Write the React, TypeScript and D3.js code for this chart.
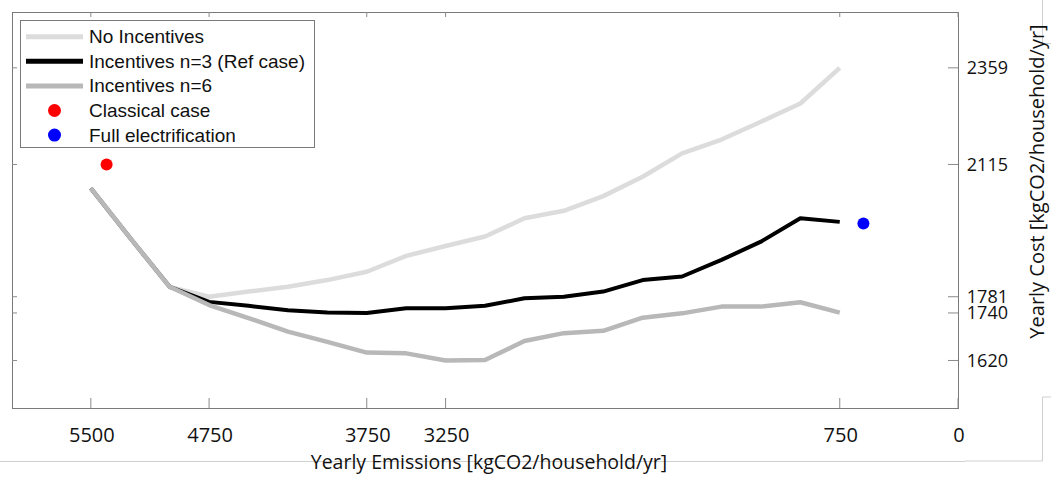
import React from "react";
import * as d3 from "d3";

const emissions = [5500, 5250, 5000, 4750, 4500, 4250, 4000, 3750, 3500, 3250, 3000, 2750, 2500, 2250, 2000, 1750, 1500, 1250, 1000, 750];
const noIncentives = [2055, 1929, 1806, 1781, 1794, 1806, 1823, 1844, 1884, 1909, 1933, 1979, 1998, 2035, 2084, 2143, 2178, 2223, 2269, 2359];
const incentivesN3 = [2055, 1929, 1806, 1768, 1758, 1747, 1741, 1740, 1752, 1752, 1758, 1777, 1781, 1794, 1823, 1832, 1874, 1920, 1979, 1970];
const incentivesN6 = [2055, 1929, 1806, 1760, 1727, 1693, 1667, 1640, 1638, 1620, 1621, 1669, 1689, 1695, 1728, 1739, 1756, 1756, 1767, 1741];
const classicalCase = { x: 5400, y: 2115 };
const fullElectrification = { x: 600, y: 1966 };
const xTicks = [5500, 4750, 3750, 3250, 750, 0];
const yTicks = [2359, 2115, 1781, 1740, 1620];

const seriesNames = ["No Incentives", "Incentives n=3 (Ref case)", "Incentives n=6", "Classical case", "Full electrification"];

const W = 1051, H = 483;
const L = 12, R = 958, T = 12, B = 408;

export default function App() {
  const x = d3.scaleLinear().domain([6000, 0]).range([L, R]);
  const y = d3.scaleLinear().domain([1500, 2500]).range([B, T]);
  const line = d3.line<number>().x((_, i) => x(emissions[i])).y((d) => y(d));

  const series = [
    { name: seriesNames[0], values: noIncentives, color: "#dcdcdc", w: 4.5 },
    { name: seriesNames[1], values: incentivesN3, color: "#000000", w: 4 },
    { name: seriesNames[2], values: incentivesN6, color: "#b8b8b8", w: 4.5 },
  ];

  const legendY = (i: number) => 36.7 + i * 24.6;
  const artifact = "#cfcfcf";
  const legendFont = "'Liberation Sans', Arial, sans-serif";

  return (
    <svg width={W} height={H} style={{ position: "absolute", left: 0, top: 0, background: "#fff" }}>
      {/* framing lines of the screenshot */}
      <line x1={0} x2={965} y1={461.5} y2={461.5} stroke={artifact} strokeWidth={1} />
      <line x1={965} x2={1042.5} y1={461} y2={461} stroke={artifact} strokeWidth={1} />
      <line x1={1042.5} x2={1042.5} y1={397} y2={461} stroke={artifact} strokeWidth={1} />
      <line x1={1042.5} x2={W} y1={397} y2={397} stroke={artifact} strokeWidth={1} />
      <line x1={1042.5} x2={1042.5} y1={0} y2={43.5} stroke={artifact} strokeWidth={1} />
      <line x1={1042.5} x2={W} y1={43.5} y2={43.5} stroke={artifact} strokeWidth={1} />

      {/* plot box */}
      <rect x={L + 0.5} y={T + 0.5} width={R - L} height={B - T} fill="none" stroke="#7a7a7a" strokeWidth={1} />

      {/* x ticks */}
      {xTicks.map((t) => (
        <g key={"xt" + t}>
          <line x1={x(t)} x2={x(t)} y1={B} y2={B - 10} stroke="#8a8a8a" />
          <line x1={x(t)} x2={x(t)} y1={T} y2={T + 5} stroke="#8a8a8a" />
          <text x={x(t) + 1} y={442} textAnchor="middle" fontFamily="'Open Sans', sans-serif" fontSize={20} fill="#111">
            {t}
          </text>
        </g>
      ))}

      {/* y ticks (right axis) */}
      {yTicks.map((t) => (
        <g key={"yt" + t}>
          <line x1={R} x2={R - 10} y1={y(t)} y2={y(t)} stroke="#8a8a8a" />
          <line x1={L} x2={L + 5} y1={y(t)} y2={y(t)} stroke="#8a8a8a" />
          <text x={1008} y={y(t) + 6.5} textAnchor="end" fontFamily="'Open Sans', sans-serif" fontSize={18} fill="#111">
            {t}
          </text>
        </g>
      ))}

      {/* series */}
      {series.map((s) => (
        <path key={s.name} d={line(s.values) || ""} fill="none" stroke={s.color} strokeWidth={s.w} strokeLinejoin="round" />
      ))}
      <circle cx={x(classicalCase.x)} cy={y(classicalCase.y)} r={6} fill="#ff0000" />
      <circle cx={x(fullElectrification.x)} cy={y(fullElectrification.y)} r={6} fill="#0000ff" />

      {/* axis titles */}
      <text x={489} y={469} textAnchor="middle" fontFamily="'Open Sans', sans-serif" fontSize={19.5} fill="#111">
        Yearly Emissions [kgCO2/household/yr]
      </text>
      <text
        transform={`translate(1044,181.5) rotate(-90)`}
        textAnchor="middle"
        fontFamily="'Open Sans', sans-serif"
        fontSize={20}
        fill="#111"
      >
        Yearly Cost [kgCO2/household/yr]
      </text>

      {/* legend */}
      <rect x={20.5} y={20.5} width={294} height={127} fill="#fff" stroke="#7a7a7a" strokeWidth={1} />
      {series.map((s, i) => (
        <g key={"lg" + s.name}>
          <line x1={26} x2={83} y1={legendY(i)} y2={legendY(i)} stroke={s.color} strokeWidth={5} />
          <text x={89} y={legendY(i) + 6.5} fontFamily={legendFont} fontSize={19} fill="#111">
            {s.name}
          </text>
        </g>
      ))}
      <circle cx={54.5} cy={legendY(3)} r={6.5} fill="#ff0000" />
      <text x={89} y={legendY(3) + 6.5} fontFamily={legendFont} fontSize={19} fill="#111">
        {seriesNames[3]}
      </text>
      <circle cx={54.5} cy={legendY(4)} r={6.5} fill="#0000ff" />
      <text x={89} y={legendY(4) + 6.5} fontFamily={legendFont} fontSize={19} fill="#111">
        {seriesNames[4]}
      </text>
    </svg>
  );
}
